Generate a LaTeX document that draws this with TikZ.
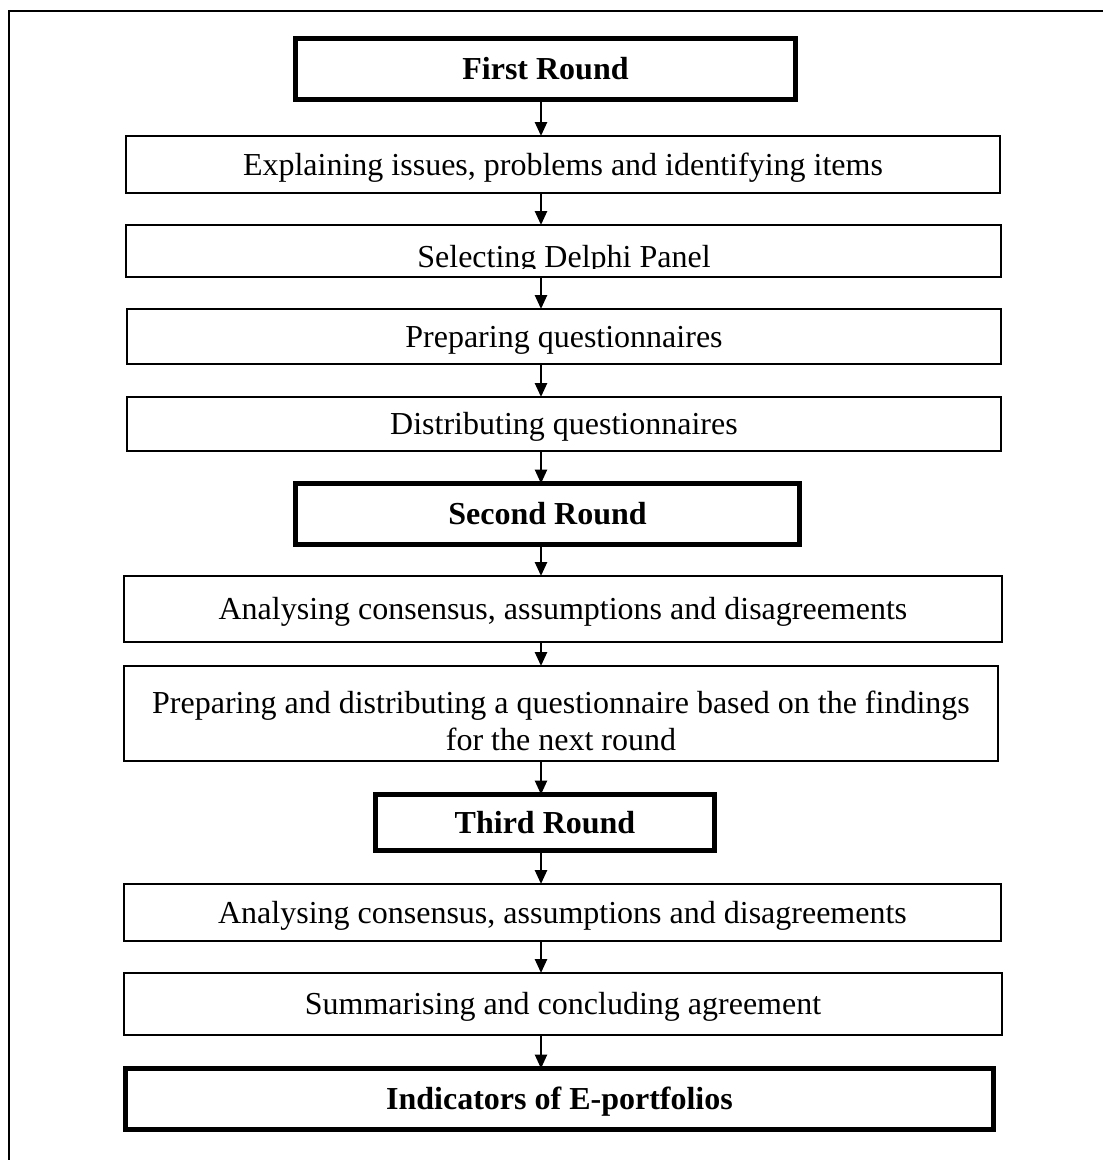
\documentclass[tikz,border=0pt]{standalone}
\usepackage{fontspec}
\setmainfont{Liberation Serif}
\usetikzlibrary{arrows.meta}

\begin{document}
\begin{tikzpicture}[x=1pt,y=-1pt,
    stage/.style={draw,line width=2pt,inner sep=0pt,outer sep=0pt,
      text height=21pt,text depth=0pt,font=\fontsize{32}{37}\selectfont},
    roundbox/.style={stage,line width=5pt,font=\fontsize{32}{37}\selectfont\bfseries},
    arr/.style={line width=2.5pt,-{Triangle[length=14pt,width=12pt]}}]
  \useasboundingbox (0,0) rectangle (1103,1160);
  % frame, open on the right and at the bottom
  \draw[line width=2pt] (9,1170) -- (9,11) -- (1110,11);
  \coordinate (axis) at (541,0);
  % first round
  \node[roundbox,minimum width=500pt,minimum height=61pt] (first) at (545.5,69) {First Round};
  \node[stage,minimum width=874pt,minimum height=57pt] (explain) at (563,164.5) {Explaining issues, problems and identifying items};
  \node[stage,minimum width=875pt,minimum height=52pt] (select) at (563.5,251) {};
  \begin{scope}
    \clip (120,220) rectangle (1010,268.5);
    \node[font=\fontsize{32}{37}\selectfont,inner sep=0pt,anchor=base] (selecttext) at (564,267) {Selecting Delphi Panel};
  \end{scope}
  \node[stage,minimum width=874pt,minimum height=55pt] (prepq) at (564,336.5) {Preparing questionnaires};
  \node[stage,minimum width=874pt,minimum height=54pt] (distq) at (564,424) {Distributing questionnaires};
  % second round
  \node[roundbox,minimum width=504pt,minimum height=61pt] (second) at (547.5,514) {Second Round};
  \node[stage,minimum width=878pt,minimum height=66pt] (anaone) at (563,609) {Analysing consensus, assumptions and disagreements};
  \node[stage,minimum width=874pt,minimum height=95pt,align=center,text height=73pt] (prepd) at (561,713.5) {Preparing and distributing a questionnaire based on the findings\\for the next round};
  % third round
  \node[roundbox,minimum width=339pt,minimum height=56pt] (third) at (545,822.5) {Third Round};
  \node[stage,minimum width=877pt,minimum height=57pt] (anatwo) at (562.5,912.5) {Analysing consensus, assumptions and disagreements};
  \node[stage,minimum width=878pt,minimum height=62pt] (summ) at (563,1004) {Summarising and concluding agreement};
  \node[roundbox,minimum width=868pt,minimum height=61pt] (indic) at (559.5,1099) {Indicators of E-portfolios};
  % arrows
  \foreach \a/\b in {first/explain,explain/select,select/prepq,prepq/distq,distq/second,
      second/anaone,anaone/prepd,prepd/third,third/anatwo,anatwo/summ,summ/indic}
    \draw[arr] (\a.south -| axis) -- (\b.north -| axis);
\end{tikzpicture}
\end{document}
